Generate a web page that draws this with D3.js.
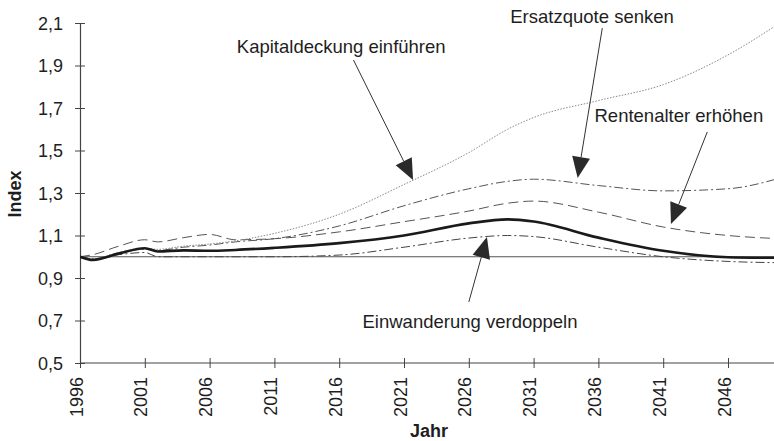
<!DOCTYPE html>
<html>
<head>
<meta charset="utf-8">
<script src="https://cdn.jsdelivr.net/npm/d3@7"></script>
<style>
  body { margin: 0; background: #fff; }
  text { font-family: 'Liberation Sans', Arial, sans-serif; fill: #1e1e1e; }
</style>
</head>
<body>
<script>

var years = [1996, 1997, 1999, 2001, 2002, 2004, 2006, 2008, 2011, 2016, 2021, 2026, 2029, 2031, 2036, 2041, 2046, 2050]

var kapitaldeckung = [1.0, 0.99, 1.02, 1.04, 1.035, 1.05, 1.06, 1.075, 1.11, 1.2, 1.34, 1.49, 1.6, 1.655, 1.735, 1.81, 1.95, 2.1]
var ersatzquote    = [1.0, 0.99, 1.02, 1.035, 1.03, 1.045, 1.055, 1.07, 1.085, 1.145, 1.24, 1.32, 1.355, 1.365, 1.335, 1.31, 1.32, 1.37]
var rentenalter    = [1.0, 1.01, 1.05, 1.08, 1.07, 1.09, 1.105, 1.08, 1.085, 1.117, 1.165, 1.215, 1.252, 1.262, 1.21, 1.14, 1.1, 1.085]
var basis          = [1.0, 0.985, 1.015, 1.04, 1.025, 1.03, 1.028, 1.032, 1.042, 1.064, 1.1, 1.157, 1.176, 1.166, 1.09, 1.028, 0.998, 0.995]
var einwanderung   = [1.0, 0.99, 1.01, 1.02, 1.0, 1.0, 1.0, 1.0, 1.0, 1.008, 1.045, 1.088, 1.1, 1.095, 1.045, 1.0, 0.978, 0.972]

var refYears = [1996, 2050]
var refValues = [1.0, 1.0]

var xTicks = [1996, 2001, 2006, 2011, 2016, 2021, 2026, 2031, 2036, 2041, 2046]
var yTicks = [0.5, 0.7, 0.9, 1.1, 1.3, 1.5, 1.7, 1.9, 2.1]

// annotations: label, text anchor (year, value), arrow start, arrow tip
var annLabels = ['Kapitaldeckung einführen', 'Ersatzquote senken', 'Rentenalter erhöhen', 'Einwanderung verdoppeln']
var annText   = [[2008.1, 1.958], [2029.2, 2.1], [2035.7, 1.634], [2017.8, 0.665]]
var annFrom   = [[2017.1, 1.926], [2036.3, 2.076], [2044.4, 1.587], [2026.0, 0.787]]
var annTip    = [[2021.7, 1.361], [2034.4, 1.371], [2041.6, 1.154], [2027.4, 1.093]]

var width = 774
var height = 441

var svg = d3.select('body')
            .append('svg')
                .attr('width', width)
                .attr('height', height)

var x = d3.scaleLinear()
            .domain([1996, 2050])
            .range([80, 80 + 54 * 12.96])

var y = d3.scaleLinear()
            .domain([0.5, 2.1])
            .range([363, 23])

var comma = function(v) { return d3.format('.1f')(v).replace('.', ',') }

function drawAxis() {

    var x_axis = d3.axisBottom(x)
                    .tickValues(xTicks)
                    .tickSizeOuter(0)
                    .tickFormat(d3.format('d'))

    var gx = svg.append('g')
                .attr('transform', 'translate(0,' + y(0.5) + ')')
                .call(x_axis)

    gx.select('.domain').remove()
    gx.append('line')
        .attr('x1', x(1996)).attr('x2', width)
        .attr('stroke', '#444').attr('stroke-width', 1.2)
    gx.selectAll('.tick line').attr('y1', -5).attr('y2', 5).attr('stroke', '#444')
    gx.selectAll('.tick text')
        .attr('transform', 'rotate(-90)')
        .attr('text-anchor', 'end')
        .attr('x', -14)
        .attr('y', 0)
        .attr('dy', '0.12em')
        .style('font-size', '18px')
        .style('font-family', "'Liberation Sans', Arial, sans-serif")
        .attr('fill', '#1e1e1e')

    var y_axis = d3.axisLeft(y)
                    .tickValues(yTicks)
                    .tickSizeOuter(0)
                    .tickFormat(comma)

    var gy = svg.append('g')
                .attr('transform', 'translate(' + x(1996) + ',0)')
                .call(y_axis)

    gy.select('.domain').attr('stroke', '#444').attr('stroke-width', 1.2)
    gy.selectAll('.tick line').attr('x1', -5).attr('x2', 5).attr('stroke', '#444')
    gy.selectAll('.tick text')
        .attr('x', -17)
        .attr('dy', '0.35em')
        .style('font-size', '18px')
        .style('font-family', "'Liberation Sans', Arial, sans-serif")
        .attr('fill', '#1e1e1e')

    svg.append('text')
        .attr('transform', 'translate(21,194) rotate(-90)')
        .attr('text-anchor', 'middle')
        .style('font-size', '18px')
        .style('font-weight', 'bold')
        .text('Index')

    svg.append('text')
        .attr('x', 429)
        .attr('y', 437)
        .attr('text-anchor', 'middle')
        .style('font-size', '18px')
        .style('font-weight', 'bold')
        .text('Jahr')
}

function drawLines() {

    var line = d3.line()
                .x(function(d) { return x(d[0]) })
                .y(function(d) { return y(d[1]) })
                .curve(d3.curveMonotoneX)

    var series = [
        { values: refValues, yrs: refYears, dash: null, w: 1.1, c: '#555' },
        { values: einwanderung, yrs: years, dash: '9,3,2,3', w: 1, c: '#444' },
        { values: rentenalter, yrs: years, dash: '10,5', w: 1, c: '#555' },
        { values: ersatzquote, yrs: years, dash: '9,3,2,3', w: 1, c: '#555' },
        { values: kapitaldeckung, yrs: years, dash: '1.5,1.5', w: 1, c: '#888' },
        { values: basis, yrs: years, dash: null, w: 2.6, c: '#1a1a1a' }
    ]

    svg.append('clipPath').attr('id', 'clip')
        .append('rect').attr('x', x(1996)).attr('y', 0).attr('width', width).attr('height', height)

    series.forEach(function(s) {
        svg.append('path')
            .datum(s.values.map(function(v, i) { return [s.yrs[i], v] }))
            .attr('clip-path', 'url(#clip)')
            .attr('d', line)
            .attr('fill', 'none')
            .attr('stroke', s.c)
            .attr('stroke-width', s.w)
            .attr('stroke-dasharray', s.dash)
    })
}

function drawAnnotations() {

    annLabels.forEach(function(label, i) {
        svg.append('text')
            .attr('x', x(annText[i][0]))
            .attr('y', y(annText[i][1]))
            .style('font-size', '18.5px')
            .text(label)

        var x1 = x(annFrom[i][0]), y1 = y(annFrom[i][1])
        var x2 = x(annTip[i][0]), y2 = y(annTip[i][1])
        var len = Math.sqrt((x2 - x1) * (x2 - x1) + (y2 - y1) * (y2 - y1))
        var ux = (x2 - x1) / len, uy = (y2 - y1) / len
        var headL = 21, headW = 9
        var bx = x2 - ux * headL, by = y2 - uy * headL

        svg.append('line')
            .attr('x1', x1).attr('y1', y1)
            .attr('x2', bx).attr('y2', by)
            .attr('stroke', '#333')
            .attr('stroke-width', 1)

        svg.append('path')
            .attr('d', 'M' + x2 + ',' + y2 +
                       'L' + (bx - uy * headW) + ',' + (by + ux * headW) +
                       'L' + (bx + uy * headW) + ',' + (by - ux * headW) + 'Z')
            .attr('fill', '#2a2a2a')
    })
}

drawAxis()
drawLines()
drawAnnotations()

</script>
</body>
</html>
